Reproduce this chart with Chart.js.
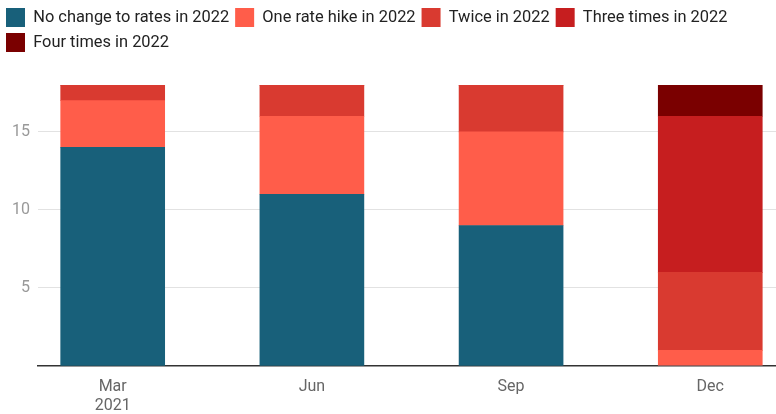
<!DOCTYPE html>
<html>
<head>
<meta charset="utf-8">
<script src="https://cdn.jsdelivr.net/npm/chart.js@4"></script>
<style>
  html, body { margin: 0; padding: 0; background: #fff; overflow: hidden; }
  #wrap { width: 776px; height: 414px; position: relative; }
</style>
</head>
<body>
<div id="wrap"><canvas id="c"></canvas></div>
<script>
// Survey periods (x axis) and number of respondents per expectation
const periods = [['Mar', '2021'], 'Jun', 'Sep', 'Dec'];
const noChange   = [14, 11, 9, 0];
const oneHike    = [3, 5, 6, 1];
const twice      = [1, 2, 3, 5];
const threeTimes = [0, 0, 0, 10];
const fourTimes  = [0, 0, 0, 2];
const yTicks = [5, 10, 15];

const seriesNames = ['No change to rates in 2022', 'One rate hike in 2022', 'Twice in 2022', 'Three times in 2022', 'Four times in 2022'];
const seriesColors = ['#18607a', '#ff5d4a', '#d93a30', '#c61e1f', '#7a0000'];
const seriesValues = [noChange, oneHike, twice, threeTimes, fourTimes];

const datasets = seriesValues.map((vals, i) => ({
  label: seriesNames[i],
  backgroundColor: seriesColors[i],
  borderWidth: 0,
  barThickness: 104,
  data: vals.map((v, idx) => ({ x: idx, y: v }))
}));

// Leave extra room between the legend and the plot area
const legendGap = {
  id: 'legendGap',
  beforeInit(chart) {
    const fit = chart.legend.fit;
    chart.legend.fit = function () {
      fit.call(this);
      this.height += 23;
    };
  }
};

Chart.defaults.font.family = 'Roboto, "Noto Sans", sans-serif';

new Chart(document.getElementById('c'), {
  type: 'bar',
  data: { datasets },
  plugins: [legendGap],
  options: {
    responsive: true,
    maintainAspectRatio: false,
    animation: false,
    layout: { padding: { left: 0, right: 0, top: 2, bottom: 0 } },
    plugins: {
      tooltip: { enabled: false },
      legend: {
        position: 'top',
        align: 'start',
        labels: {
          boxWidth: 19,
          boxHeight: 19,
          padding: 6,
          color: '#222',
          font: { size: 16.4 }
        }
      }
    },
    scales: {
      x: {
        type: 'linear',
        stacked: true,
        offset: false,
        min: -0.375,
        max: 3.33,
        afterFit: (s) => { s.height = 48; },
        grid: { display: false, offset: false },
        border: { display: true, color: '#333', width: 1.5 },
        ticks: {
          stepSize: 1,
          includeBounds: false,
          autoSkip: false,
          maxRotation: 0,
          padding: 3,
          color: '#666',
          font: { size: 16 },
          callback: (v) => Number.isInteger(v) && periods[v] !== undefined ? periods[v] : ''
        }
      },
      y: {
        stacked: true,
        min: 0,
        max: 18,
        afterFit: (s) => { s.width = 38; },
        grid: {
          color: (ctx) => yTicks.includes(ctx.tick && ctx.tick.value) ? '#e2e2e2' : 'rgba(0,0,0,0)',
          drawTicks: false
        },
        border: { display: false },
        ticks: {
          stepSize: 5,
          padding: 8,
          color: '#999',
          font: { size: 16 },
          callback: (v) => yTicks.includes(v) ? String(v) : ''
        }
      }
    }
  }
});
</script>
</body>
</html>
